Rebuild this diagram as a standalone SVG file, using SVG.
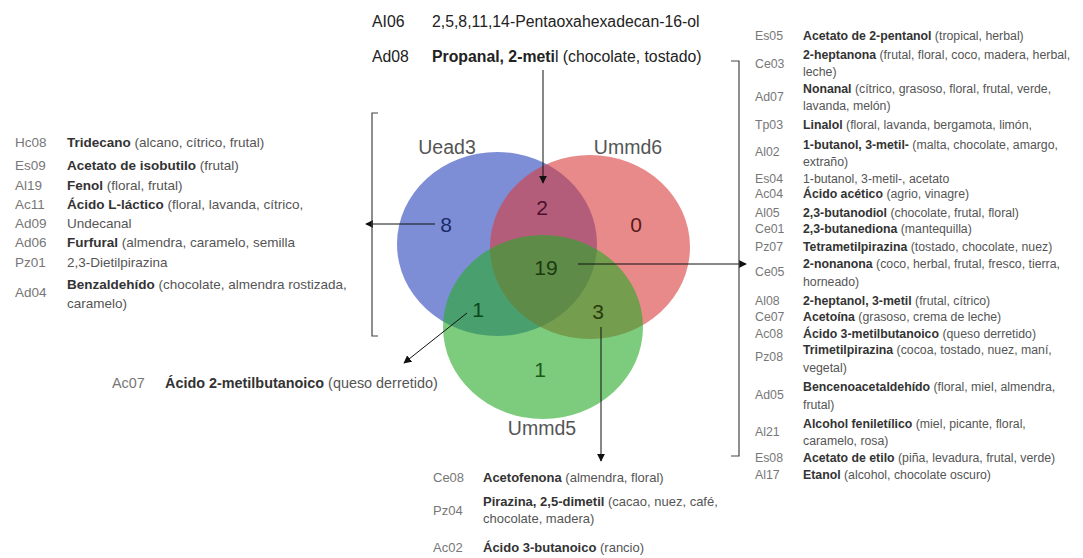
<svg xmlns="http://www.w3.org/2000/svg" width="1083" height="558" viewBox="0 0 1083 558">
<style>
text{font-family:"Liberation Sans",Arial,sans-serif;}
.top{font-size:15.8px;fill:#222;}
.l{font-size:13.5px;fill:#555;}
.r{font-size:12.3px;fill:#555;}
.b{font-size:13px;fill:#555;}
.lb{font-size:14.4px;fill:#555;}
.c{fill:#777;}
.k{font-weight:bold;fill:#333;}
.set{font-size:19.5px;fill:#555;text-anchor:middle;}
.num{font-size:21px;text-anchor:middle;}
.ln{stroke:#111;stroke-width:1;fill:none;}
.br{stroke:#444;stroke-width:1.2;fill:none;}
</style>
<defs>
<marker id="ah" viewBox="0 0 10 10" refX="9" refY="5" markerWidth="8" markerHeight="8" markerUnits="userSpaceOnUse" orient="auto">
<path d="M0,0 L10,5 L0,10 z" fill="#111"/>
</marker>
</defs>
<rect width="1083" height="558" fill="#fff"/>
<g id="venn">
<ellipse id="Uead3" cx="497" cy="244" rx="100" ry="92" fill="rgb(40,67,187)" fill-opacity="0.6"/>
<ellipse id="Ummd6" cx="590" cy="247" rx="100" ry="92" fill="rgb(217,60,60)" fill-opacity="0.6"/>
<ellipse id="Ummd5" cx="543" cy="327" rx="100" ry="92" fill="rgb(38,170,38)" fill-opacity="0.6"/>
<text class="set" x="447" y="154">Uead3</text>
<text class="set" x="628" y="154">Ummd6</text>
<text class="set" x="542" y="435">Ummd5</text>
<text class="num" x="446" y="232" fill="#1a2a6a">8</text>
<text class="num" x="542" y="215" fill="#4a1030">2</text>
<text class="num" x="636" y="232" fill="#5a1a1a">0</text>
<text class="num" x="546" y="275" fill="#1a3a10">19</text>
<text class="num" x="478" y="317" fill="#0a4a1a">1</text>
<text class="num" x="598" y="319" fill="#2a3a0a">3</text>
<text class="num" x="540" y="377" fill="#1a5a1a">1</text>
</g>
<g id="connectors">
<line class="ln" x1="543" y1="70" x2="543" y2="183" marker-end="url(#ah)"/>
<line class="ln" x1="435" y1="224" x2="366" y2="224" marker-end="url(#ah)"/>
<line class="ln" x1="578" y1="264" x2="746" y2="264" marker-end="url(#ah)"/>
<line class="ln" x1="467" y1="313" x2="404" y2="363" marker-end="url(#ah)"/>
<line class="ln" x1="601" y1="327" x2="601" y2="461" marker-end="url(#ah)"/>
<path class="br" d="M378,113 L372,113 L372,336 L378,336"/>
<path class="br" d="M731,61 L739,61 L739,456 L731,456"/>
</g>
<g id="top-list">
<text class="top" x="372" y="27">AI06</text>
<text class="top" x="432" y="27">2,5,8,11,14-Pentaoxahexadecan-16-ol</text>
<text class="top" x="372" y="62">Ad08</text>
<text class="top" x="432" y="62"><tspan font-weight="bold">Propanal, 2-meti</tspan>l (chocolate, tostado)</text>
</g>
<g id="left-list">
<text class="l c" x="15" y="147">Hc08</text><text class="l" x="67" y="147"><tspan class="k">Tridecano</tspan> (alcano, cítrico, frutal)</text>
<text class="l c" x="15" y="170">Es09</text><text class="l" x="67" y="170"><tspan class="k">Acetato de isobutilo</tspan> (frutal)</text>
<text class="l c" x="15" y="190">Al19</text><text class="l" x="67" y="190"><tspan class="k">Fenol</tspan> (floral, frutal)</text>
<text class="l c" x="15" y="209">Ac11</text><text class="l" x="67" y="209"><tspan class="k">Ácido L-láctico</tspan> (floral, lavanda, cítrico,</text>
<text class="l c" x="15" y="228">Ad09</text><text class="l" x="67" y="228">Undecanal</text>
<text class="l c" x="15" y="247">Ad06</text><text class="l" x="67" y="247"><tspan class="k">Furfural</tspan> (almendra, caramelo, semilla</text>
<text class="l c" x="15" y="267">Pz01</text><text class="l" x="67" y="267">2,3-Dietilpirazina</text>
<text class="l c" x="15" y="297">Ad04</text><text class="l" x="67" y="289"><tspan class="k">Benzaldehído</tspan> (chocolate, almendra rostizada,</text>
<text class="l" x="67" y="308">caramelo)</text>
</g>
<g id="right-list">
<text class="r c" x="755" y="40">Es05</text><text class="r" x="803" y="40"><tspan class="k">Acetato de 2-pentanol</tspan> (tropical, herbal)</text>
<text class="r c" x="755" y="68">Ce03</text><text class="r" x="803" y="59"><tspan class="k">2-heptanona</tspan> (frutal, floral, coco, madera, herbal,</text>
<text class="r" x="803" y="76">leche)</text>
<text class="r c" x="755" y="101">Ad07</text><text class="r" x="803" y="93"><tspan class="k">Nonanal</tspan> (cítrico, grasoso, floral, frutal, verde,</text>
<text class="r" x="803" y="110">lavanda, melón)</text>
<text class="r c" x="755" y="129">Tp03</text><text class="r" x="803" y="129"><tspan class="k">Linalol</tspan> (floral, lavanda, bergamota, limón,</text>
<text class="r c" x="755" y="156">Al02</text><text class="r" x="803" y="149"><tspan class="k">1-butanol, 3-metil-</tspan>  (malta, chocolate, amargo,</text>
<text class="r" x="803" y="166">extraño)</text>
<text class="r c" x="755" y="183">Es04</text><text class="r" x="803" y="183">1-butanol, 3-metil-, acetato</text>
<text class="r c" x="755" y="198">Ac04</text><text class="r" x="803" y="198"><tspan class="k">Ácido acético</tspan> (agrio, vinagre)</text>
<text class="r c" x="755" y="217">Al05</text><text class="r" x="803" y="217"><tspan class="k">2,3-butanodiol</tspan> (chocolate, frutal, floral)</text>
<text class="r c" x="755" y="233">Ce01</text><text class="r" x="803" y="233"><tspan class="k">2,3-butanediona</tspan> (mantequilla)</text>
<text class="r c" x="755" y="251">Pz07</text><text class="r" x="803" y="251"><tspan class="k">Tetrametilpirazina</tspan> (tostado, chocolate, nuez)</text>
<text class="r c" x="755" y="276">Ce05</text><text class="r" x="803" y="268"><tspan class="k">2-nonanona</tspan> (coco, herbal, frutal, fresco, tierra,</text>
<text class="r" x="803" y="286">horneado)</text>
<text class="r c" x="755" y="305">Al08</text><text class="r" x="803" y="305"><tspan class="k">2-heptanol, 3-metil</tspan> (frutal, cítrico)</text>
<text class="r c" x="755" y="321">Ce07</text><text class="r" x="803" y="321"><tspan class="k">Acetoína</tspan> (grasoso, crema de leche)</text>
<text class="r c" x="755" y="338">Ac08</text><text class="r" x="803" y="338"><tspan class="k">Ácido 3-metilbutanoico</tspan> (queso derretido)</text>
<text class="r c" x="755" y="361">Pz08</text><text class="r" x="803" y="354"><tspan class="k">Trimetilpirazina</tspan> (cocoa, tostado, nuez, maní,</text>
<text class="r" x="803" y="372">vegetal)</text>
<text class="r c" x="755" y="399">Ad05</text><text class="r" x="803" y="391"><tspan class="k">Bencenoacetaldehído</tspan> (floral, miel, almendra,</text>
<text class="r" x="803" y="409">frutal)</text>
<text class="r c" x="755" y="436">Al21</text><text class="r" x="803" y="428"><tspan class="k">Alcohol feniletílico</tspan> (miel, picante, floral,</text>
<text class="r" x="803" y="445">caramelo, rosa)</text>
<text class="r c" x="755" y="462">Es08</text><text class="r" x="803" y="462"><tspan class="k">Acetato de etilo</tspan> (piña, levadura,  frutal, verde)</text>
<text class="r c" x="755" y="479">Al17</text><text class="r" x="803" y="479"><tspan class="k">Etanol</tspan> (alcohol, chocolate oscuro)</text>
</g>
<g id="bottom-list">
<text class="b c" x="433" y="482">Ce08</text><text class="b" x="483" y="482"><tspan class="k">Acetofenona</tspan> (almendra, floral)</text>
<text class="b c" x="433" y="515">Pz04</text><text class="b" x="483" y="506"><tspan class="k">Pirazina, 2,5-dimetil</tspan> (cacao, nuez, café,</text>
<text class="b" x="483" y="523">chocolate, madera)</text>
<text class="b c" x="433" y="552">Ac02</text><text class="b" x="483" y="552"><tspan class="k">Ácido 3-butanoico</tspan> (rancio)</text>
</g>
<g id="left-bottom">
<text class="lb c" x="112" y="388">Ac07</text><text class="lb" x="165" y="388"><tspan class="k">Ácido 2-metilbutanoico</tspan> (queso derretido)</text>
</g>
</svg>
